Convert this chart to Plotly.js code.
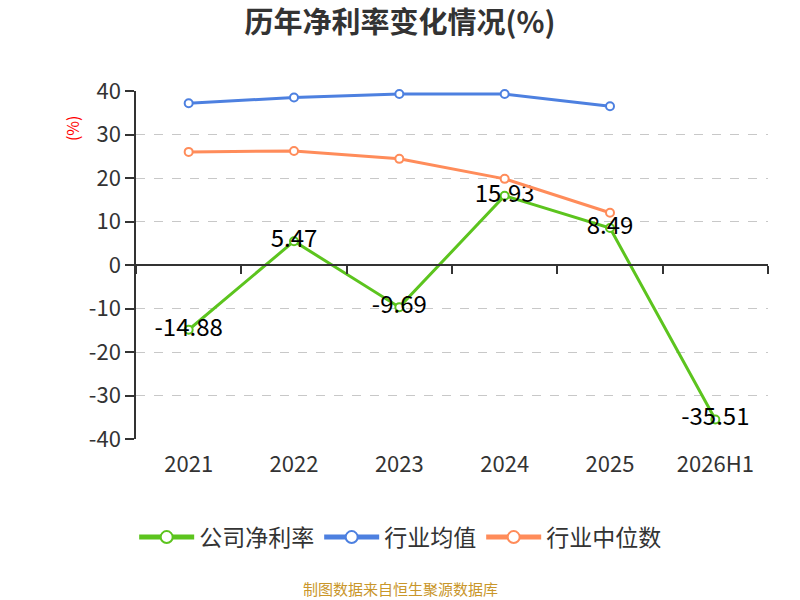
<!DOCTYPE html>
<html>
<head>
<meta charset="utf-8">
<script src="https://cdn.plot.ly/plotly-3.0.1.min.js"></script>
<style>
  html, body { margin: 0; padding: 0; background: #fff; }
  #chart { width: 800px; height: 600px; }
</style>
</head>
<body>
<div id="chart"></div>
<script>
// categories and series
var years = ['2021', '2022', '2023', '2024', '2025', '2026H1'];
var companyMargin = [-14.88, 5.47, -9.69, 15.93, 8.49, -35.51];
var industryMean = [37.2, 38.5, 39.3, 39.3, 36.5, null];
var industryMedian = [26.0, 26.2, 24.4, 19.8, 12.0, null];
var yTicks = [-40, -30, -20, -10, 0, 10, 20, 30, 40];

var font = '"Noto Sans CJK SC", "Noto Sans", sans-serif';

function marker(color) {
    return { symbol: 'circle', size: 8, color: '#fff', line: { color: color, width: 2 } };
}

var data = [
    {
        x: years, y: companyMargin, name: '公司净利率',
        type: 'scatter', mode: 'lines+markers+text',
        line: { color: '#5cc41e', width: 3 },
        marker: marker('#5cc41e'),
        text: companyMargin.map(function (v) { return v.toFixed(2); }),
        textposition: 'middle center',
        textfont: { size: 24, color: '#000', family: font },
        cliponaxis: false
    },
    {
        x: years, y: industryMean, name: '行业均值',
        type: 'scatter', mode: 'lines+markers',
        line: { color: '#4d80e0', width: 3 },
        marker: marker('#4d80e0'),
        xaxis: 'x2', cliponaxis: false
    },
    {
        x: years, y: industryMedian, name: '行业中位数',
        type: 'scatter', mode: 'lines+markers',
        line: { color: '#ff8c5a', width: 3 },
        marker: marker('#ff8c5a'),
        cliponaxis: false
    }
];

var layout = {
    width: 800, height: 600,
    margin: { l: 136, r: 32, t: 91, b: 161 },
    paper_bgcolor: '#fff', plot_bgcolor: '#fff',
    font: { family: font, color: '#333' },
    title: {
        text: '<b>历年净利率变化情况(%)</b>',
        x: 0.5, xanchor: 'center', y: 0.962, yanchor: 'middle',
        font: { size: 29, color: '#333', family: font }
    },
    showlegend: true,
    legend: {
        orientation: 'h', x: 0.418, xanchor: 'center', y: -0.282, yanchor: 'middle',
        font: { size: 23, color: '#333', family: font },
        itemwidth: 55, itemsizing: 'constant', traceorder: 'normal'
    },
    xaxis: {
        type: 'category', categoryorder: 'array', categoryarray: years,
        range: [-0.5, 5.5],
        showline: false, ticks: '', showgrid: false, zeroline: false,
        tickfont: { size: 22, color: '#333' },
        ticklabelstandoff: 10
    },
    xaxis2: {
        type: 'category', categoryorder: 'array', categoryarray: years,
        overlaying: 'x', matches: 'x', anchor: 'free', position: 0.5,
        showline: true, linecolor: '#333', linewidth: 1.5,
        ticks: 'outside', tickson: 'boundaries', ticklen: 8, tickcolor: '#333', tickwidth: 1.5,
        showticklabels: false, showgrid: false, zeroline: false
    },
    yaxis: {
        range: [-40, 40], tickvals: yTicks,
        ticktext: yTicks.map(function (v) { return String(v); }),
        showline: true, linecolor: '#333', linewidth: 1.5,
        ticks: 'outside', ticklen: 9, tickcolor: '#333', tickwidth: 1.5,
        showgrid: true, gridcolor: '#c8c8c8', griddash: 'dash', gridwidth: 1,
        zeroline: false,
        tickfont: { size: 22, color: '#333' }
    },
    annotations: [
        {
            text: '(%)', xref: 'paper', yref: 'paper', x: -0.101, y: 0.894,
            xanchor: 'center', yanchor: 'middle',
            showarrow: false, textangle: -90,
            font: { size: 16, color: '#ff0000', family: font }
        },
        {
            text: '制图数据来自恒生聚源数据库', xref: 'paper', yref: 'paper',
            x: 0.418, y: -0.431, xanchor: 'center', yanchor: 'middle', showarrow: false,
            font: { size: 15, color: '#c9962a', family: font }
        }
    ]
};

Plotly.newPlot('chart', data, layout, { displayModeBar: false });
</script>
</body>
</html>
